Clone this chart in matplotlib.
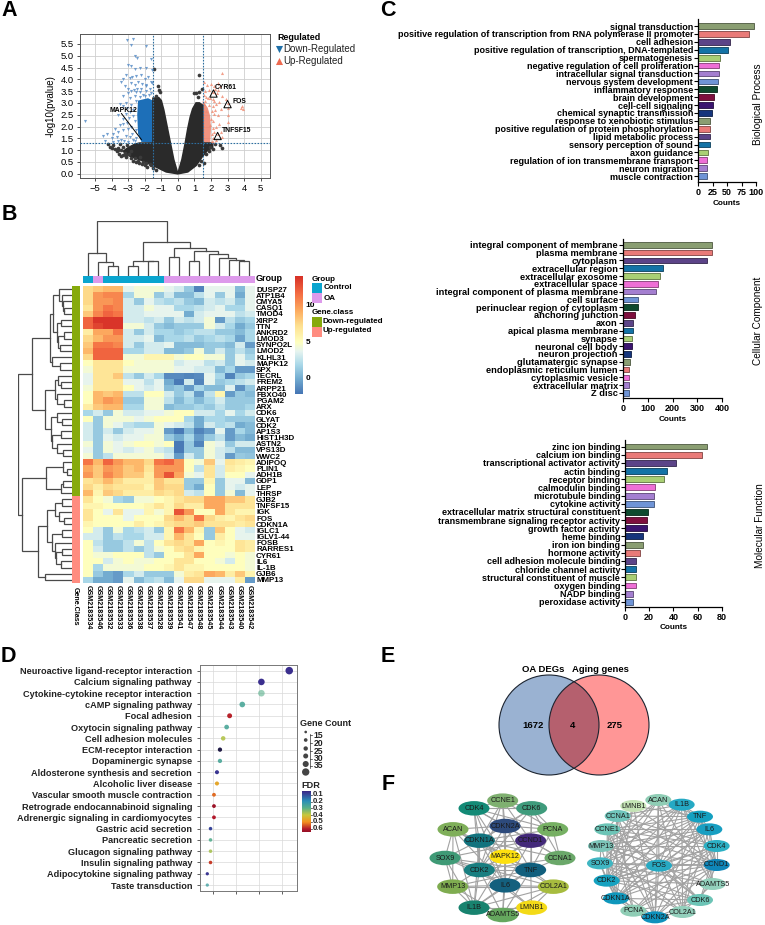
import matplotlib
matplotlib.use("Agg")
import matplotlib.pyplot as plt
import numpy as np
from matplotlib.colors import LinearSegmentedColormap
from matplotlib.patches import Circle, Ellipse, Rectangle

plt.rcParams['font.family'] = ['Liberation Sans', 'DejaVu Sans']
W, H = 765, 925
fig = plt.figure(figsize=(W / 100, H / 100), dpi=100, facecolor='white')

def axpx(x0, y0, x1, y1, **kw):
    return fig.add_axes([x0 / W, 1 - y1 / H, (x1 - x0) / W, (y1 - y0) / H], **kw)

# ------------------------------------------------------------ A data
cloud_left_x = [0, -.25, -.45, -.65, -.85, -1.0, -1.15, -1.5, -1.5, -2.3, -2.6, -3.0, -3.3, -2.9, -2.3, -1.8, -1.2, -.7]
cloud_left_y = [0, .6, 1.3, 2.0, 2.7, 3.1, 3.22, 3.2, 1.3, 1.3, 1.25, 1.1, .95, .75, .6, .45, .25, .08]
cloud_right_x = [0, .25, .45, .6, .75, .9, 1.1, 1.3, 1.5, 1.5, 2.1, 2.1, 1.8, 1.5, 1.1, .6]
cloud_right_y = [0, .6, 1.3, 1.9, 2.4, 2.75, 3.0, 3.0, 2.9, 1.3, 1.3, 1.1, 1.0, .75, .35, .08]
down_block_x = [-1.5, -1.5, -1.8, -2.4, -2.45, -2.4, -2.2]
down_block_y = [1.3, 3.1, 3.2, 3.1, 2.5, 1.7, 1.35]
up_block_x = [1.5, 1.5, 1.8, 1.95, 2.0, 1.95]
up_block_y = [1.3, 3.1, 2.8, 2.45, 1.9, 1.3]
down_x = [-3.05, -2.7, -2.85, -1.95, -2.6, -2.45, -1.6, -3.0, -2.8, -2.6, -2.3, -1.9, -1.55, -3.3, -3.1, -2.9, -2.75, -2.5,
          -2.2, -2.0, -1.8, -1.6, -3.4, -3.2, -3.0, -2.8, -2.6, -2.4, -2.15, -1.9, -1.7, -1.55, -3.3, -3.0, -2.85, -2.65,
          -2.45, -2.6, -2.9, -3.1, -3.5, -3.3, -3.05, -2.8, -2.55, -3.15, -2.9, -2.7, -3.6, -3.3, -2.95, -2.7, -3.8, -3.5,
          -3.3, -3.05, -2.8, -2.6, -3.9, -3.6, -3.3, -3.0, -2.75, -2.55, -4.5, -4.3, -4.0, -3.7, -3.4, -3.15, -2.9, -2.6,
          -5.6, -4.4, -3.9, -3.6, -3.25, -3.0, -2.7, -2.5, -2.1, -1.9, -2.3, -2.0, -1.75, -1.6, -2.2, -1.9, -2.55, -2.3]
down_y = [5.65, 5.7, 5.45, 5.4, 5.0, 4.9, 4.85, 4.6, 4.55, 4.45, 4.5, 4.5, 4.4, 4.0, 4.2, 4.05, 4.1, 4.15,
          4.2, 4.0, 4.1, 3.9, 3.9, 3.7, 3.6, 3.85, 3.75, 3.9, 3.8, 3.7, 3.6, 3.85, 3.3, 3.4, 3.5, 3.55,
          3.6, 3.3, 3.2, 3.0, 2.95, 2.85, 2.8, 2.9, 3.1, 2.55, 2.6, 2.7, 2.5, 2.3, 2.35, 2.45, 1.9, 2.05,
          2.1, 2.15, 2.0, 2.25, 1.7, 1.75, 1.85, 1.9, 1.7, 1.85, 1.6, 1.7, 1.5, 1.55, 1.45, 1.6, 1.55, 1.4,
          2.25, 1.4, 1.35, 1.4, 1.4, 1.35, 1.45, 1.5, 3.35, 3.5, 3.45, 3.3, 3.35, 3.4, 3.6, 3.75, 3.45, 3.25]
up_x = [2.2, 2.45, 2.65, 3.85, 1.6, 1.75, 2.0, 2.25, 2.4, 2.55, 1.65, 1.85, 2.1, 2.35, 2.65, 2.9, 3.0, 3.8, 3.95, 1.7,
        1.95, 2.2, 2.5, 3.0, 1.6, 1.85, 2.1, 2.3, 2.6, 3.0, 1.7, 2.05, 2.2, 2.45, 3.0, 2.0, 2.15, 2.5, 1.95, 2.1,
        2.3, 2.6, 2.05, 2.2, 2.45, 2.65, 2.1, 2.3, 2.05, 2.15, 1.55, 1.8, 2.1, 2.25, 1.65]
up_y = [3.7, 3.85, 4.25, 2.85, 3.9, 3.75, 3.8, 3.6, 3.55, 3.7, 3.5, 3.55, 3.45, 3.4, 3.3, 3.15, 3.0, 2.8, 2.75, 3.25,
        3.2, 3.1, 3.05, 2.8, 2.95, 2.9, 2.85, 2.95, 2.75, 2.5, 2.65, 2.65, 2.55, 2.5, 2.2, 2.3, 2.25, 2.1, 2.05, 1.95,
        2.0, 1.75, 1.7, 1.75, 1.7, 1.55, 1.5, 1.45, 1.4, 1.35, 3.35, 3.2, 3.15, 2.7, 3.1]
other_x = [-1.45, -1.2, -1.15, -1.05, -1.3, 1.3, 1.45, 1.3, 1.1, 1.0, 1.2, 2.55, 2.65, 2.1, 1.3, -4.2, -4.1, -3.9, -3.6, -3.7,
           -3.4, -3.2, -3.1, -2.8, -3.5, -1.9, -1.6, -2.4, -2.1, -1.7, 1.9, 1.7, 1.4,
           -3.8, -3.55, -3.45, -3.3, -3.15, -2.95, -2.7, -2.5, -3.3, -3.05, -2.6, -2.35, -2.15, -2.0, -1.85, -1.5, -1.3,
           -2.8, -3.6, -4.0, -2.3, 2.25, 1.95, 1.55]
other_y = [4.45, 3.7, 3.55, 3.45, 3.3, 4.2, 3.6, 3.45, 3.4, 3.4, 3.25, 1.2, 1.1, 1.05, .35, 1.25, 1.15, 1.2, 1.1, .95,
           1.0, .9, .8, .65, 1.25, .45, .35, .55, .5, .4, .95, .85, .55,
           1.05, .85, .75, .8, .7, .85, .55, .5, 1.15, 1.2, .65, .45, .4, .35, .3, .25, .15,
           .95, 1.0, 1.1, .7, 1.25, 1.15, .45]
hit_x = [2.15, 3.0, 2.4]
hit_y = [3.4, 2.95, 1.6]

# ------------------------------------------------------------ B data
genes = ['DUSP27', 'ATP1B4', 'CMYA5', 'CASQ1', 'TMOD4', 'XIRP2', 'TTN', 'ANKRD2', 'LMOD3', 'SYNPO2L', 'LMOD2', 'KLHL31',
         'MAPK12', 'SPX', 'TECRL', 'FREM2', 'ARPP21', 'FBXO40', 'PGAM2', 'ARX', 'CDK6', 'GLYAT', 'CDK2', 'AP1S3',
         'HIST1H3D', 'ASTN2', 'VPS13D', 'WWC2', 'ADIPOQ', 'PLIN1', 'ADH1B', 'GDP1', 'LEP', 'THRSP', 'GJB2', 'TNFSF15',
         'IGK', 'FOS', 'CDKN1A', 'IGLC1', 'IGLV1-44', 'FOSB', 'RARRES1', 'CYR61', 'IL6', 'IL-1B', 'GJB6', 'MMP13']
samples = ['GSM2183534', 'GSM2183546', 'GSM2183532', 'GSM2183533', 'GSM2183536', 'GSM2183538', 'GSM2183537', 'GSM2183528',
           'GSM2183539', 'GSM2183541', 'GSM2183547', 'GSM2183548', 'GSM2183545', 'GSM2183544', 'GSM2183543', 'GSM2183540',
           'GSM2183542']
sample_group = [0, 1, 0, 0, 0, 0, 0, 0, 1, 1, 1, 1, 1, 1, 1, 1, 1]
gene_class = [0] * 34 + [1] * 14
expr = [
 [8, 8.5, 9, 9, 5, 5.5, 5.5, 5.5, 5, 4.5, 3, .8, 5, 5, 5, 2.5, 5],
 [8, 10, 10.5, 10.5, 3.5, 5.5, 5.5, 3, 4.5, 2.5, 2.5, 4, 5, 3, 5, 2, 5],
 [8, 10, 10, 10.5, 4.5, 3, 5, 4, 3.5, 4, 3, 2.5, 4.5, 4, 4.5, 3, 5],
 [7.5, 10, 11, 10.5, 4.5, 4.5, 5.5, 5, 5, 3.5, 3.5, 4, 4.5, 5, 3.5, 3.5, 5],
 [8.5, 10.5, 11.5, 11, 4.5, 4.5, 5, 5, 5, 5, 2, 4.5, 5, 5, 5, 4, 4.5],
 [11.5, 13, 13, 13, 4.5, 4.5, 4, 4.5, 3, 4.5, 4, 4.5, 5.5, 1.5, 4, 3, 3.5],
 [11.5, 12.5, 13, 13, 5.5, 5.5, 4.5, 3, 2.5, 3, 3, 3, 5.5, 4.5, 3.5, 2, 3],
 [7, 9.5, 9.5, 11, 4.5, 3, 4.5, 3.5, 3.5, 3, 3.5, 4, 4, 3, 3, 2.5, 3.5],
 [8, 9, 10, 10, 4.5, 4.5, 5, 2.5, 3.5, 3.5, 4, 3, 3.5, 4, 3.5, 1.8, 3.5],
 [8.5, 11, 11, 10.5, 4.5, 3, 4.5, 4.5, 5, 2.5, 2.5, 2.5, 3, 3, 2.5, 4.5, 1.5],
 [9, 11.5, 11.5, 11.5, 3.5, 3.5, 4.5, 4.5, 2.5, 2.5, 3, 5.5, 3, 4.5, 3, 4, 3],
 [8, 11.5, 11.5, 11.5, 5.5, 5.5, 6.5, 6.5, 6.5, 5.5, 6, 6, 5.5, 5.5, 3, 5, 3.5],
 [6, 7.5, 7.5, 7.5, 6, 5.5, 5.5, 5.5, 5.5, 4.5, 5, 5, 4, 4.5, 3, 5, 4.5],
 [5.5, 7.5, 7.5, 7.5, 5.5, 5.5, 5.5, 5.5, 5.5, 5, 5, 4.5, 4.5, 2.5, 3.5, 1.5, 1.5],
 [5, 7.5, 7.5, 8.5, 4, 3, 4.5, 3.5, 1, 1, .8, 1, 5, 3.5, .8, 3, 3.5],
 [5, 7.5, 7.5, 7.5, 5, 5, 4, 5, 2, .5, 4.5, .8, 5, 3, 3.5, 4, 4.5],
 [5.5, 7.5, 7.5, 7.5, 6, 5, 4.5, 5, 2.5, 3, 1.5, 3.5, 2.5, 2.5, 4.8, 1.2, 3],
 [6, 9, 8.5, 9, 4, 4, 6, 6, 4.5, 3, 4, 1.5, 4, 6.5, 1.5, 3, 2.5],
 [6, 9, 10, 9.5, 3, 3, 5.5, 5.5, 4, 2.5, 3.5, 2.5, 3.5, 4.5, 3, 3, 3],
 [7, 8.5, 9, 9, 3.5, 3.5, 5.5, 5.5, 2.5, 3, 3, 3.5, 3, 4, 3, 3, 3.5],
 [3.5, 4.5, 3, 5.5, 4.5, 4.5, 5, 5, 5.5, 6, 6, 4.5, 4.5, 3.5, 5, 3.5, 4.5],
 [6, 3, 5.5, 5.5, 5.5, 5, 5.5, 6, 6, 6, 3.5, 2, 3.5, 3.5, 3, 3, 3],
 [4.5, 3, 5.5, 5, 4, 3.5, 3.5, 5.5, 5, 4.5, 4, 2, 4.5, 3.5, 4, 2, 2.5],
 [4.5, 3, 4.5, 3, 4.5, 5, 5, 5.5, 1.5, .5, 2.5, .8, 1.5, 5, 1.5, 3.5, 2.5],
 [4.5, 3, 5, 4.5, 5, 5, 5.5, 5.5, 3, 2, 3.5, 1.5, 3, 4, 1.5, 2.5, 2],
 [5.5, 3, 5.5, 5, 5.5, 6, 6, 5.5, 6, .5, 3, .8, 5.5, 5, 3, 4.5, 4.5],
 [5, 3, 5.5, 5, 4.5, 5, 5.5, 4.5, 4, .5, 3, 3, 5.5, 4.5, 4, 2.5, 2.5],
 [5.5, 3, 4, 5.5, 5.5, 5.5, 5.5, 5.5, 4.5, 1.5, 4.5, 3, 5.5, 4.5, 1.5, 3, 2.8],
 [11, 9, 11.5, 10, 9, 9, 8, 11, 11.5, 10, 6, 5.5, 8.5, 5, 7.5, 7, 6.5],
 [9.5, 8.5, 10, 9.5, 8.5, 9, 7.5, 10, 10, 10, 6, 4, 7.5, 4.5, 7, 6.5, 6],
 [10, 8.5, 10.5, 9.5, 8.5, 8.5, 7, 10, 12, 9.5, 5.5, 5, 7.5, 4.5, 6, 6, 5],
 [7.5, 8, 9, 8, 7, 7, 7, 8.5, 7.5, 7.5, 3, 3, 6.5, 3, 5, 5, 2.5],
 [8, 7, 8, 7.5, 7.5, 7.5, 6.5, 8.5, 8, 8, 3, 2, 6, 3, 5, 4.5, 5],
 [9, 6.5, 8.5, 8, 7, 7, 7, 8, 7.5, 8, 4.5, 4, 6, 3, 5.5, 2.5, 5],
 [7.5, 6, 5.5, 3.5, 3, 5.5, 5.5, 6, 6.5, 7.5, 8, 8, 9.5, 9.5, 8.5, 8.5, 7.5],
 [6.5, 6.5, 6, 6, 6, 6, 6.5, 7.5, 6.5, 8, 7, 7, 9.5, 9.5, 7.5, 7.5, 7.5],
 [7.5, 6, 5, 7.5, 5, 5, 6.5, 5.5, 6.5, 12, 10, 6, 6, 9.5, 7.5, 6.5, 6.5],
 [7.5, 6, 6, 6, 5, 6, 6, 6, 8, 9, 8, 11, 8, 7, 6.5, 7.5, 8],
 [6.5, 6, 6, 6, 6, 7, 6, 6.5, 7.5, 8, 8, 8.5, 7.5, 7.5, 7.5, 7, 7.5],
 [6, 4.5, 3, 5.5, 3.5, 4, 4.5, 3, 6.5, 11, 9, 6.5, 3, 8.5, 6, 5, 4.5],
 [4.5, 4.5, 3, 4, 3.5, 3.5, 4.5, 4.5, 6.5, 9, 7.5, 6, 3, 7, 6, 5, 5],
 [6, 4, 3, 3, 4, 5.5, 4, 6, 7.5, 8, 7.5, 9.5, 6, 6.5, 6, 7.5, 7],
 [6, 4.5, 3, 3, 4, 3, 4, 5.5, 6, 7.5, 8, 6.5, 6, 6, 6, 7.5, 7],
 [6, 5.5, 5.5, 6, 6, 6, 4, 3, 6, 6, 7.5, 9.5, 6, 6, 5.5, 6, 5.5],
 [6, 6, 4.5, 5.5, 6, 5.5, 5.5, 6, 6, 7.5, 7.5, 6, 6, 5.5, 4.5, 6, 5.5],
 [6, 3.5, 5.5, 5.5, 5.5, 5.5, 6, 6, 6.5, 7.5, 6.5, 6.5, 6, 6, 6, 6, 5.5],
 [6, 3, 2, 1.5, 3.5, 4.5, 3, 3, 3, 5.5, 7, 7.5, 9.5, 9, 7, 8.5, 6.5],
 [3.5, 2, 2, 1.5, 5, 2.5, 3.5, 4, 2.5, 5, 8, 8, 5, 5, 5, 7, 1.5]]
L = None
col_tree = (161, (66, L, (41, L, (28, L, L))),
            (101, (44, (29, L, L), (42, L, L)),
             (83, (54, L, L), (74, (43, L, L), (64, L, (51, L, (46, L, (42, L, L))))))))
row_tree = (161,
            (119,
             (66, (56, (38, L, (30, L, (28, L, (24, L, L)))),
                   (44, (32, L, L), (41, (24, L, L), (36, L, L)))),
              (61, L, (36, L, L))),
             (81, (50, (42, L, (34, L, L)), (46, L, (24, L, L))),
              (64, (44, L, (30, L, L)), (60, (32, L, L), (44, L, (28, L, L)))))),
            (149,
             (78, (26, L, (14, L, L)), (34, (28, L, L), L)),
             (101, (76, (51, (30, L, L), (40, L, (24, L, L))),
                    (61, (30, L, L), (52, L, (48, (30, L, L), (34, L, L))))),
              (81, L, L))))

# ------------------------------------------------------------ C data
bp_terms = ['signal transduction', 'positive regulation of transcription from RNA polymerase II promoter', 'cell adhesion',
            'positive regulation of transcription, DNA-templated', 'spermatogenesis',
            'negative regulation of cell proliferation', 'intracellular signal transduction', 'nervous system development',
            'inflammatory response', 'brain development', 'cell-cell signaling', 'chemical synaptic transmission',
            'response to xenobiotic stimulus', 'positive regulation of protein phosphorylation', 'lipid metabolic process',
            'sensory perception of sound', 'axon guidance', 'regulation of ion transmembrane transport', 'neuron migration',
            'muscle contraction']
bp_counts = [97, 88, 55, 52, 38, 37, 36, 35, 33, 27, 25, 24, 21, 21, 20, 20, 18, 16, 16, 15]
cc_terms = ['integral component of membrane', 'plasma membrane', 'cytoplasm', 'extracellular region', 'extracellular exosome',
            'extracellular space', 'integral component of plasma membrane', 'cell surface', 'perinuclear region of cytoplasm',
            'anchoring junction', 'axon', 'apical plasma membrane', 'synapse', 'neuronal cell body', 'neuron projection',
            'glutamatergic synapse', 'endoplasmic reticulum lumen', 'cytoplasmic vesicle', 'extracellular matrix', 'Z disc']
cc_counts = [358, 358, 338, 163, 149, 140, 133, 61, 61, 51, 42, 40, 39, 37, 32, 31, 27, 26, 24, 24]
mf_terms = ['zinc ion binding', 'calcium ion binding', 'transcriptional activator activity', 'actin binding',
            'receptor binding', 'calmodulin binding', 'microtubule binding', 'cytokine activity',
            'extracellular matrix structural constituent', 'transmembrane signaling receptor activity',
            'growth factor activity', 'heme binding', 'iron ion binding', 'hormone activity',
            'cell adhesion molecule binding', 'chloride channel activity', 'structural constituent of muscle',
            'oxygen binding', 'NADP binding', 'peroxidase activity']
mf_counts = [68, 64, 42, 35, 32, 25, 24, 24, 19, 18, 18, 15, 15, 12, 9, 9, 9, 9, 7, 7]
OL, SA, PU, BL, LG, PK, LV, CO, DG, CR, DP, NV = ('#8A9E72', '#E97A78', '#5C4488', '#1473A6', '#A9CF74', '#EE6FD6',
                                                  '#A47FD0', '#6F94D6', '#0E4A2E', '#7F0F3E', '#3B1470', '#16357C')
bp_colors = [OL, SA, PU, BL, LG, PK, LV, CO, DG, CR, DP, NV, OL, SA, PU, BL, LG, PK, LV, CO]
cc_colors = [OL, SA, PU, BL, LG, PK, LV, CO, DG, CR, PU, BL, LG, DP, NV, OL, SA, PK, LV, CO]
mf_colors = bp_colors

# ------------------------------------------------------------ D data
pathways = ['Neuroactive ligand-receptor interaction', 'Calcium signaling pathway', 'Cytokine-cytokine receptor interaction',
            'cAMP signaling pathway', 'Focal adhesion', 'Oxytocin signaling pathway', 'Cell adhesion molecules',
            'ECM-receptor interaction', 'Dopaminergic synapse', 'Aldosterone synthesis and secretion',
            'Alcoholic liver disease', 'Vascular smooth muscle contraction', 'Retrograde endocannabinoid signaling',
            'Adrenergic signaling in cardiomyocytes', 'Gastric acid secretion', 'Pancreatic secretion',
            'Glucagon signaling pathway', 'Insulin signaling pathway', 'Adipocytokine signaling pathway', 'Taste transduction']
path_ratio = [.053, .0409, .0409, .0326, .0271, .0258, .0243, .0229, .0229, .0216, .0216, .0203, .0203, .0203, .0188, .0188,
              .0188, .0188, .0174, .0174]
path_count = [38, 31, 31, 25, 21, 20, 19, 18, 18, 17, 17, 16, 16, 16, 15, 15, 15, 15, 14, 14]
path_fdr = [.07, .07, .3, .27, .59, .27, .38, .02, .27, .08, .46, .53, .63, .6, .1, .29, .37, .57, .08, .25]
path_alpha = [1, 1, .6, .9, 1, .9, .9, 1, .9, 1, 1, 1, 1, 1, 1, .9, .9, 1, 1, .8]
fdr_colors = [(0, '#15132a'), (.07, '#3b2f8f'), (.2, '#2a8fb8'), (.3, '#58b08a'), (.4, '#c8c83c'), (.5, '#f59020'),
              (.6, '#b2182b'), (.68, '#7a0a20')]
legend_counts = [15, 20, 25, 30, 35]
legend_sizes = [3.7, 7, 10, 13, 19, 28]
fdr_ticks = [.1, .2, .3, .4, .5, .6]

# ------------------------------------------------------------ E data
venn_sets = ['OA DEGs', 'Aging genes']
venn_only_a, venn_both, venn_only_b = 1672, 4, 275

# ------------------------------------------------------------ F data
f_left = {'CCNE1': (368, 512, '#7FB070'), 'CDK4': (282, 535, '#138A76'), 'CDK6': (455, 535, '#3F9B7C'),
          'ACAN': (219, 598, '#7FAF5A'), 'PCNA': (518, 598, '#76B063'), 'CDKN2A': (375, 588, '#2D4A7B'),
          'CDKN1A': (298, 632, '#12737E'), 'CCND1': (452, 632, '#43297A'), 'SOX9': (195, 684, '#3F9A76'),
          'MAPK12': (375, 680, '#FDE00F'), 'CCNA1': (540, 684, '#6BA86A'), 'CDK2': (298, 720, '#187E80'),
          'TNF': (452, 720, '#115F7D'), 'IL6': (375, 766, '#14607E'), 'MMP13': (218, 770, '#7FAC50'),
          'COL2A1': (520, 770, '#A7BC3F'), 'IL1B': (282, 833, '#18836F'), 'LMNB1': (455, 833, '#F3DA17'),
          'ADAMTS5': (368, 855, '#65A75E')}
f_left_edges = {'CCNE1': ['CDK4', 'CDK6', 'CDKN2A', 'CDKN1A', 'CCND1', 'CDK2', 'PCNA', 'MAPK12'],
                'CDK4': ['CDK6', 'CDKN2A', 'CDKN1A', 'CCND1', 'CDK2', 'PCNA', 'MAPK12', 'IL6'],
                'CDK6': ['CDKN2A', 'CDKN1A', 'CCND1', 'CDK2', 'PCNA', 'CCNA1', 'TNF'],
                'ACAN': ['SOX9', 'MMP13', 'CDKN1A', 'TNF', 'IL6', 'IL1B', 'COL2A1', 'CDKN2A'],
                'PCNA': ['CDKN2A', 'CDKN1A', 'CCND1', 'CDK2', 'CCNA1', 'TNF'],
                'CDKN2A': ['CDKN1A', 'CCND1', 'MAPK12', 'CDK2', 'TNF', 'CCNA1', 'IL6'],
                'CDKN1A': ['CCND1', 'SOX9', 'MAPK12', 'CDK2', 'TNF', 'IL6', 'IL1B', 'CCNA1'],
                'CCND1': ['MAPK12', 'CDK2', 'TNF', 'CCNA1', 'IL6', 'SOX9'],
                'SOX9': ['MMP13', 'CDK2', 'IL6', 'TNF', 'IL1B', 'COL2A1'],
                'MAPK12': ['CDK2', 'TNF', 'IL6', 'IL1B', 'ADAMTS5'],
                'CCNA1': ['CDK2', 'TNF'],
                'CDK2': ['TNF', 'IL6', 'IL1B', 'MMP13', 'ADAMTS5', 'LMNB1'],
                'TNF': ['IL6', 'COL2A1', 'MMP13', 'IL1B', 'ADAMTS5', 'LMNB1'],
                'IL6': ['MMP13', 'COL2A1', 'IL1B', 'ADAMTS5', 'LMNB1'],
                'MMP13': ['IL1B', 'COL2A1', 'ADAMTS5'],
                'COL2A1': ['IL1B', 'ADAMTS5', 'LMNB1'],
                'IL1B': ['ADAMTS5', 'LMNB1']}
f_right = {'ACAN': (835, 510, '#8FCDB5'), 'LMNB1': (760, 528, '#C4E3B5'), 'IL1B': (905, 524, '#25A9C4'),
           'TNF': (960, 560, '#14A0C0'), 'CCNA1': (713, 558, '#70C5BB'), 'IL6': (988, 598, '#189FC2'),
           'CCNE1': (682, 598, '#6CC4B6'), 'CDK4': (1010, 648, '#2CB0C4'), 'MMP13': (663, 648, '#7CC4B8'),
           'SOX9': (660, 700, '#40B6C2'), 'CCND1': (1010, 705, '#0F86B8'), 'FOS': (837, 707, '#27A9C2'),
           'CDK2': (680, 752, '#16A2C0'), 'ADAMTS5': (998, 762, '#93D0BC'), 'CDKN1A': (708, 805, '#0F97BC'),
           'CDK6': (960, 810, '#6CC4B6'), 'PCNA': (760, 842, '#8FCDB5'), 'COL2A1': (908, 846, '#93D0BC'),
           'CDKN2A': (825, 862, '#0F91BC')}
f_right_edges = {'FOS': ['ACAN', 'IL1B', 'TNF', 'IL6', 'CDK4', 'CCND1', 'CDK2', 'SOX9', 'MMP13', 'CDKN1A', 'CDKN2A', 'CCNE1', 'COL2A1', 'CDK6'],
                 'ACAN': ['SOX9', 'MMP13', 'IL1B', 'TNF', 'IL6', 'COL2A1', 'CDK2', 'ADAMTS5', 'CDKN2A'],
                 'LMNB1': ['CDK2', 'CDKN1A', 'CDKN2A', 'CCND1', 'TNF'],
                 'IL1B': ['TNF', 'IL6', 'MMP13', 'SOX9', 'CDK2', 'CDKN1A', 'CCNA1', 'COL2A1', 'ADAMTS5', 'CCND1'],
                 'TNF': ['IL6', 'MMP13', 'SOX9', 'CCND1', 'CDK2', 'CDKN1A', 'CDKN2A', 'COL2A1', 'CCNA1', 'CCNE1', 'ADAMTS5'],
                 'CCNA1': ['CCNE1', 'CDK2', 'CDK4', 'CCND1', 'CDKN1A', 'CDKN2A', 'PCNA', 'CDK6'],
                 'IL6': ['MMP13', 'SOX9', 'CDK2', 'CDKN1A', 'CCND1', 'COL2A1', 'ADAMTS5', 'CCNE1', 'PCNA'],
                 'CCNE1': ['CDK2', 'CDK4', 'CCND1', 'CDKN1A', 'CDKN2A', 'PCNA', 'CDK6'],
                 'CDK4': ['CCND1', 'CDK2', 'CDKN1A', 'CDKN2A', 'PCNA', 'CDK6', 'MMP13'],
                 'MMP13': ['SOX9', 'COL2A1', 'ADAMTS5', 'CDKN1A', 'CCND1'],
                 'SOX9': ['COL2A1', 'ADAMTS5', 'CDK2', 'CDKN1A', 'CCND1', 'CDK6'],
                 'CCND1': ['CDK2', 'CDKN1A', 'CDKN2A', 'PCNA', 'CDK6'],
                 'CDK2': ['CDKN1A', 'CDKN2A', 'PCNA', 'CDK6', 'ADAMTS5'],
                 'CDKN1A': ['CDKN2A', 'PCNA', 'CDK6'],
                 'CDK6': ['CDKN2A', 'PCNA'],
                 'PCNA': ['CDKN2A'],
                 'COL2A1': ['ADAMTS5', 'CDKN2A']}

# ============================================================ A
BOLD = 'bold'
ax = axpx(79.7, 34, 270, 178)
ax.set_xlim(-5.92, 5.56)
ax.set_ylim(-.18, 5.92)
ax.set_xticks(range(-5, 6))
ax.set_yticks(np.arange(0, 5.6, .5))
ax.set_yticklabels([f'{v:.1f}' for v in np.arange(0, 5.6, .5)])
ax.grid(color='#cfcfcf', lw=.6)
ax.set_axisbelow(True)
ax.tick_params(labelsize=6.8, length=2.5, width=.6, pad=2, color='#333333')
for s in ax.spines.values():
    s.set_linewidth(.7)
    s.set_color('#555555')
ax.set_ylabel('-log10(pvalue)', fontsize=7, labelpad=3)
ax.fill(down_block_x, down_block_y, color='#1D6FB8', lw=0, zorder=2)
ax.fill(up_block_x, up_block_y, color='#F0806A', lw=0, alpha=.85, zorder=2)
ax.fill(cloud_left_x, cloud_left_y, color='#2a2a2a', ec='#2a2a2a', lw=1.2, zorder=3)
ax.fill(cloud_right_x, cloud_right_y, color='#2a2a2a', ec='#2a2a2a', lw=1.2, zorder=3)
ax.scatter(other_x, other_y, s=7, c='#3a3a3a', lw=0, zorder=3)
ax.scatter(down_x, down_y, s=5, c='#5B8FC8', marker='v', lw=0, alpha=.85, zorder=3)
ax.scatter(up_x, up_y, s=5, c='#F08A70', marker='^', lw=0, alpha=.8, zorder=3)
for v in (-1.5, 1.5):
    ax.axvline(v, color='#2E6E9E', ls=(0, (1.5, 1.2)), lw=.8, zorder=4)
ax.axhline(1.3, color='#2E6E9E', ls=(0, (1.5, 1.2)), lw=.8, zorder=4)
ax.scatter(hit_x, hit_y, s=28, marker='^', fc='none', ec='black', lw=.7, zorder=5)
for name, tx, ty in [('CYR61', 2.25, 3.67), ('FOS', 3.27, 3.04), ('TNFSF15', 2.66, 1.85), ('MAPK12', -4.14, 2.66)]:
    ax.text(tx, ty, name, fontsize=4.9, weight=BOLD, ha='left', va='center', zorder=6)
ax.plot([-3.4, -2.2], [2.55, 1.45], color='black', lw=.7, zorder=6)

# ============================================================ B
cmap_hm = LinearSegmentedColormap.from_list('hm', [(0, '#4575B4'), (.13, '#74ADD1'), (.25, '#ABD9E9'), (.36, '#E6F4F0'),
                                                   (.44, '#FFFFBF'), (.58, '#FEE090'), (.7, '#FDAE61'),
                                                   (.85, '#F46D43'), (1, '#D73027')])
vmin, vmax = 0.3, 13.2
ax = axpx(83, 286, 254, 583)
ax.imshow(np.array(expr), aspect='auto', cmap=cmap_hm, vmin=vmin, vmax=vmax, interpolation='nearest')
ax.set_xticks(range(len(samples)))
ax.set_xticklabels(samples, rotation=-90, fontsize=5.1, weight=BOLD)
ax.set_yticks(range(len(genes)))
ax.set_yticklabels(genes, fontsize=5.7, weight=BOLD)
ax.yaxis.tick_right()
ax.tick_params(length=0, pad=1.5)
for s in ax.spines.values():
    s.set_visible(False)

def draw_tree(a, node, counter, horizontal):
    if node is None:
        i = counter[0]
        counter[0] += 1
        return i, 0
    h, left, right = node
    p1, h1 = draw_tree(a, left, counter, horizontal)
    p2, h2 = draw_tree(a, right, counter, horizontal)
    pos = [p1, p1, p2, p2]
    hs = [h1, h, h, h2]
    if horizontal:
        a.plot(pos, hs, color='#4a4a4a', lw=.9, solid_joinstyle='miter')
    else:
        a.plot(hs, pos, color='#4a4a4a', lw=.9, solid_joinstyle='miter')
    return (p1 + p2) / 2, h

ax = axpx(83, 221, 254, 275.5)
ax.set_xlim(-.5, len(samples) - .5)
ax.set_ylim(0, 162)
draw_tree(ax, col_tree, [0], True)
ax.axis('off')
ax = axpx(18, 286, 72, 583)
ax.set_ylim(len(genes) - .5, -.5)
ax.set_xlim(162, 0)
draw_tree(ax, row_tree, [0], False)
ax.axis('off')

group_colors = ['#0AA5CF', '#DD9AEB']
class_colors = ['#86AA0C', '#FF8C80']
ax = axpx(83, 276, 254, 283)
ax.imshow(np.array(sample_group)[None, :], aspect='auto', cmap=matplotlib.colors.ListedColormap(group_colors), interpolation='nearest')
ax.axis('off')
ax = axpx(72.3, 286, 80, 583)
ax.imshow(np.array(gene_class)[:, None], aspect='auto', cmap=matplotlib.colors.ListedColormap(class_colors), interpolation='nearest')
ax.axis('off')
ax = axpx(295, 276, 303, 394)
ax.imshow(np.linspace(14, -2.3, 256)[:, None], aspect='auto', cmap=cmap_hm,
          vmin=-2.3, vmax=14, extent=[0, 1, -2.3, 14])
ax.set_xticks([])
ax.yaxis.tick_right()
ax.set_yticks([0, 5, 10])
ax.tick_params(length=0, labelsize=6, pad=2)
for lab in ax.get_yticklabels():
    lab.set_fontweight(BOLD)
for s in ax.spines.values():
    s.set_visible(False)

# ============================================================ C
def bars(box, terms, counts, colors, xmax, ticks, ylim, fs):
    x0, y0, x1, y1 = box
    a = axpx(x0, y0, x1, y1)
    ypos = np.arange(len(terms))
    edges = [tuple(.55 * v for v in matplotlib.colors.to_rgb(c)) for c in colors]
    a.barh(ypos, counts, height=.72, color=colors, edgecolor=edges, lw=.6)
    a.set_xlim(0, xmax)
    a.set_ylim(*ylim)
    a.set_yticks(ypos)
    a.set_yticklabels(terms, fontsize=fs, weight=BOLD)
    a.set_xticks(ticks)
    a.set_xticklabels([str(t) for t in ticks], fontsize=6.5, weight=BOLD)
    a.tick_params(length=3, width=.8, pad=1.2)
    a.tick_params(axis='y', length=3, pad=.5)
    a.spines['top'].set_visible(False)
    a.spines['right'].set_visible(False)
    a.spines['left'].set_linewidth(.9)
    a.spines['bottom'].set_linewidth(.9)
    a.set_xlabel('Counts', fontsize=5.9, weight=BOLD, labelpad=2)
    return a

bars((698, 19, 756, 182), bp_terms, bp_counts, bp_colors, 100, [0, 25, 50, 75, 100], (19.75, -.9), 6.5)
bars((622.7, 239, 722.3, 398), cc_terms, cc_counts, cc_colors, 400, [0, 100, 200, 300, 400], (19.65, -.75), 6.7)
bars((625, 440, 721.7, 606.7), mf_terms, mf_counts, mf_colors, 80, [0, 20, 40, 60, 80], (19.6, -.8), 6.5)

# ============================================================ D
cmap_fdr = LinearSegmentedColormap.from_list('fdr', [(p / .68, c) for p, c in fdr_colors])
ax = axpx(199.7, 665, 297.3, 890.7)
ypos = np.arange(len(pathways))
size = lambda c: (np.asarray(c, float) - 14) * 1.0 + 5.5
ax.scatter(path_ratio, ypos, s=size(path_count), c=[cmap_fdr(f / .68)[:3] + (al,) for f, al in zip(path_fdr, path_alpha)], lw=0, zorder=3)
ax.set_xlim(.0141, .0565)
ax.set_ylim(19.5, -.5)
ax.set_yticks(ypos)
ax.set_yticklabels(pathways, fontsize=6.6, weight=BOLD, color='#222222')
ax.set_xticks([.02, .03, .04, .05])
ax.set_xticklabels([])
ax.grid(color='#d9d9d9', lw=.5)
ax.set_axisbelow(True)
ax.tick_params(length=2.5, width=.6, color='#444444', pad=3)
for s in ax.spines.values():
    s.set_linewidth(.7)
    s.set_color('#777777')

# ============================================================ overlay
ov = axpx(0, 0, W, H)
ov.set_xlim(0, W)
ov.set_ylim(H, 0)
ov.axis('off')
ov.patch.set_alpha(0)

for t, x, y in [('A', 9, 11), ('B', 9, 214), ('C', 388, 10), ('D', 8, 657), ('E', 388, 657), ('F', 388, 785)]:
    ov.text(x, y, t, fontsize=15.5, weight=BOLD, ha='center', va='center')

# A legend
ov.text(277, 37, 'Regulated', fontsize=6.4, weight=BOLD, va='center')
ov.scatter([279], [48.5], s=26, marker='v', c='#1E6FA8', lw=0)
ov.scatter([279], [60.5], s=26, marker='^', c='#EE6A50', lw=0)
ov.text(283.5, 48.5, 'Down-Regulated', fontsize=7, va='center', color='#222222')
ov.text(283.5, 60.5, 'Up-Regulated', fontsize=7, va='center', color='#222222')

# B legend
ov.text(256, 278.5, 'Group', fontsize=6.5, weight=BOLD, va='center')
ov.text(75.5, 587, 'Gene.Class', fontsize=5.1, weight=BOLD, rotation=-90, ha='center', va='top')
ov.text(312, 279.5, 'Group', fontsize=5.8, weight=BOLD, va='center')
ov.add_patch(Rectangle((312, 283), 10, 9.5, fc=group_colors[0], lw=0))
ov.add_patch(Rectangle((312, 293), 10, 9.5, fc=group_colors[1], lw=0))
ov.text(324, 287.5, 'Control', fontsize=5.8, weight=BOLD, va='center')
ov.text(324, 298, 'OA', fontsize=5.8, weight=BOLD, va='center')
ov.text(312, 313, 'Gene.class', fontsize=5.8, weight=BOLD, va='center')
ov.add_patch(Rectangle((312, 317), 10, 9.5, fc=class_colors[0], lw=0))
ov.add_patch(Rectangle((312, 327), 10, 9.5, fc=class_colors[1], lw=0))
ov.text(323, 321.5, 'Down-regulated', fontsize=5.8, weight=BOLD, va='center')
ov.text(323, 331, 'Up-regulated', fontsize=5.8, weight=BOLD, va='center')

# C side labels
ov.text(758.5, 104, 'Biological Process', fontsize=7.2, rotation=90, ha='center', va='center')
ov.text(758.5, 321, 'Cellular Component', fontsize=7.2, rotation=90, ha='center', va='center')
ov.text(760, 526, 'Molecular Function', fontsize=7.2, rotation=90, ha='center', va='center')

# D legends
ov.text(300, 724, 'Gene Count', fontsize=6.5, weight=BOLD, va='center', color='#222222')
dot_y = [732, 740, 748.5, 756, 764, 772]
ov.scatter([305.7] * 6, dot_y, s=legend_sizes, c='#444444', lw=0)
ov.plot([310, 310], [734, 768], color='#333333', lw=.5)
for c, y in zip(legend_counts, [735, 743, 751, 758.5, 766]):
    ov.plot([310, 312], [y, y], color='#333333', lw=.5)
    ov.text(313.5, y, str(c), fontsize=6.2, weight=BOLD, va='center', color='#222222')
ov.text(301, 785, 'FDR', fontsize=6.6, weight=BOLD, va='center', color='#222222')
fdr_ax = axpx(301.7, 791, 310, 832)
fdr_ax.imshow(np.linspace(.06, .64, 128)[:, None] / .68, aspect='auto', cmap=cmap_fdr, vmin=0, vmax=1)
fdr_ax.axis('off')
for t, y in zip(fdr_ticks, [795, 801.7, 808.4, 815.1, 821.8, 828.5]):
    ov.plot([310, 312], [y, y], color='#333333', lw=.5)
    ov.text(313, y, f'{t:.1f}', fontsize=5.6, weight=BOLD, va='center', color='#222222')

# E venn
c1 = Circle((549, 725), 50, fc='#9AB2D2', ec='none')
c2 = Circle((599, 725), 50, fc='#FF9696', ec='none')
ov.add_patch(c1)
ov.add_patch(c2)
lens = Circle((599, 725), 50, fc='#B5606E', ec='none')
ov.add_patch(lens)
lens.set_clip_path(c1)
ov.add_patch(Circle((549, 725), 50, fc='none', ec='#1c2430', lw=.8))
ov.add_patch(Circle((599, 725), 50, fc='none', ec='#1c2430', lw=.8))
ov.text(542.7, 670, venn_sets[0], fontsize=6.8, weight=BOLD, ha='center', va='center')
ov.text(600, 670, venn_sets[1], fontsize=6.8, weight=BOLD, ha='center', va='center')
ov.text(533, 725, str(venn_only_a), fontsize=6.8, weight=BOLD, ha='center', va='center')
ov.text(572.7, 725, str(venn_both), fontsize=6.8, weight=BOLD, ha='center', va='center')
ov.text(615, 725, str(venn_only_b), fontsize=6.8, weight=BOLD, ha='center', va='center')

# F networks
def network(nodes, edges, w, h):
    px = lambda x, y: (380 + x / 3, 630 + y / 3)
    for a, others in edges.items():
        for b in others:
            (x0, y0), (x1, y1) = px(*nodes[a][:2]), px(*nodes[b][:2])
            ov.plot([x0, x1], [y0, y1], color='#a2a2a2', lw=.8, zorder=2)
    for name, (x, y, col) in nodes.items():
        cx, cy = px(x, y)
        ov.add_patch(Ellipse((cx, cy), w, h, fc=col, ec='none', zorder=3))
        ov.text(cx, cy, name, fontsize=5.2, ha='center', va='center', color='#1a1a1a', zorder=4)

network(f_left, f_left_edges, 31, 14.5)
network(f_right, f_right_edges, 26, 12)

fig.savefig('out.png', dpi=100, facecolor='white')
